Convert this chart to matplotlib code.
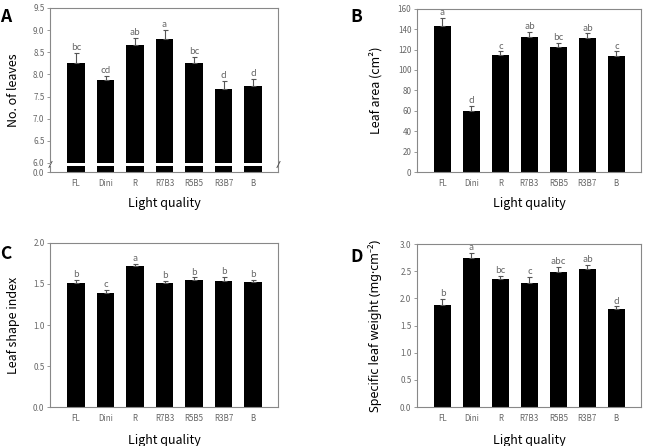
import numpy as np
import matplotlib
matplotlib.use("Agg")
import matplotlib.pyplot as plt

plt.rcParams['font.family'] = ['Noto Sans CJK KR', 'DejaVu Sans']

treatments = ["FL", "Dini", "R", "R7B3", "R5B5", "R3B7", "B"]

leaves = [8.26, 7.87, 8.66, 8.80, 8.26, 7.66, 7.73]
leaves_err = [0.22, 0.09, 0.16, 0.20, 0.13, 0.20, 0.17]
leaves_sig = ["bc", "cd", "ab", "a", "bc", "d", "d"]

area = [142.7, 59.4, 114.3, 132.2, 122.4, 130.9, 114.0]
area_err = [8.2, 5.3, 3.9, 5.3, 4.0, 4.9, 4.2]
area_sig = ["a", "d", "c", "ab", "bc", "ab", "c"]

shape = [1.51, 1.39, 1.72, 1.51, 1.55, 1.54, 1.52]
shape_err = [0.04, 0.04, 0.02, 0.025, 0.03, 0.05, 0.025]
shape_sig = ["b", "c", "a", "b", "b", "b", "b"]

slw = [1.87, 2.74, 2.36, 2.28, 2.48, 2.54, 1.80]
slw_err = [0.12, 0.09, 0.06, 0.12, 0.10, 0.07, 0.05]
slw_sig = ["b", "a", "bc", "c", "abc", "ab", "d"]

GRAY = "#666666"


# broken y axis for panel A: 0-6 squeezed, 6-9.5 linear
def fwd(y):
    y = np.asarray(y, dtype=float)
    return np.where(y <= 6, y * 0.2045 / 6, 0.2045 + (y - 6))


def inv(y):
    y = np.asarray(y, dtype=float)
    return np.where(y <= 0.2045, y * 6 / 0.2045, y - 0.2045 + 6)


def draw_panel(ax, vals, errs, sig, ylim, yticks, ylabel, ylab_x, xlab_y, pad, ylab_family=None):
    x = np.arange(len(treatments))
    ax.bar(x, vals, width=0.6, color="black", zorder=2)
    ax.errorbar(x, vals, yerr=[np.zeros(len(vals)), errs], fmt="none",
                ecolor="#555555", elinewidth=0.8, capsize=1.8, capthick=0.8, zorder=3)
    for xi, v, e, s in zip(x, vals, errs, sig):
        ax.text(xi, v + e + pad, s, ha="center", va="bottom", fontsize=6.5, color=GRAY)
    ax.set_xlim(-0.88, 6.85)
    ax.set_ylim(*ylim)
    ax.set_yticks(yticks)
    ax.set_yticklabels(["%.1f" % t if isinstance(t, float) else str(t) for t in yticks])
    ax.set_xticks(x)
    ax.set_xticklabels(treatments)
    ax.tick_params(axis="x", length=0, labelsize=5.8, labelcolor=GRAY, pad=5)
    ax.tick_params(axis="y", length=2, width=0.6, color="#888888", labelsize=5.8,
                   labelcolor=GRAY, pad=2)
    for sp in ax.spines.values():
        sp.set_color("#888888")
        sp.set_linewidth(0.8)
    if ylab_family:
        ax.set_ylabel(ylabel, fontsize=9, family=ylab_family)
    else:
        ax.set_ylabel(ylabel, fontsize=9)
    ax.yaxis.set_label_coords(ylab_x, 0.5)
    ax.set_xlabel("Light quality", fontsize=9)
    ax.xaxis.set_label_coords(0.5, xlab_y)


fig = plt.figure(figsize=(6.48, 4.46), dpi=100)
axA = fig.add_axes([0.0772, 0.6143, 0.352, 0.368])
axB = fig.add_axes([0.6435, 0.6143, 0.3457, 0.366])
axC = fig.add_axes([0.0772, 0.0874, 0.352, 0.3678])
axD = fig.add_axes([0.6435, 0.0874, 0.3457, 0.3655])

axA.set_yscale("function", functions=(fwd, inv))
draw_panel(axA, leaves, leaves_err, leaves_sig, (0, 9.5),
           [0.0, 6.0, 6.5, 7.0, 7.5, 8.0, 8.5, 9.0, 9.5], "No. of leaves", -0.13, -0.155, 0.02)
axA.axhspan(4.3, 5.9, color="white", zorder=4, lw=0)
axA.plot([0, 1], [5.0, 5.0], transform=axA.get_yaxis_transform(), linestyle="none",
         marker=[(-1, -2), (1, 2)], markersize=5, markeredgewidth=0.7,
         color="#555555", clip_on=False, zorder=5)

draw_panel(axB, area, area_err, area_sig, (0, 160), list(range(0, 161, 20)),
           "Leaf area (cm²)", -0.156, -0.155, 0.8)
draw_panel(axC, shape, shape_err, shape_sig, (0, 2.0), [0.0, 0.5, 1.0, 1.5, 2.0],
           "Leaf shape index", -0.13, -0.165, 0.01)
draw_panel(axD, slw, slw_err, slw_sig, (0, 3.0), [0.0, 0.5, 1.0, 1.5, 2.0, 2.5, 3.0],
           "Specific leaf weight (mg·cm⁻²)", -0.156, -0.165, 0.015,
           ylab_family=["Noto Sans", "DejaVu Sans"])

for lbl, fx, fy in [("A", 0.0, 0.961), ("B", 0.541, 0.961),
                    ("C", 0.0, 0.43), ("D", 0.541, 0.423)]:
    fig.text(fx, fy, lbl, fontsize=12.5, fontweight="bold", ha="left", va="center")

fig.savefig("out.png", dpi=100)
